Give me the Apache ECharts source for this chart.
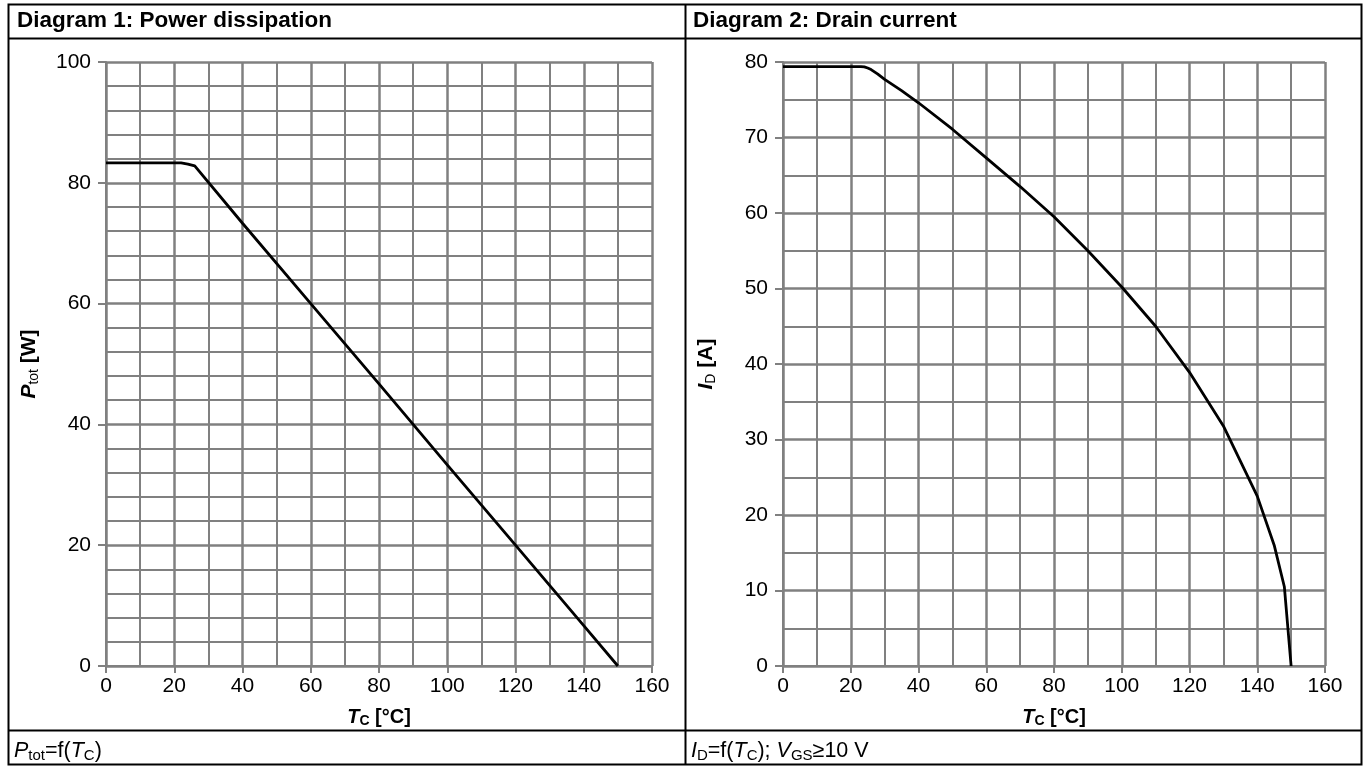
<!DOCTYPE html>
<html>
<head>
<meta charset="utf-8">
<script src="https://cdn.jsdelivr.net/npm/echarts@6/dist/echarts.min.js"></script>
<style>
html,body{margin:0;padding:0;background:#fff;}
#c{width:1364px;height:766px;}
</style>
</head>
<body>
<div id="c"></div>
<script>
// Diagram 1: power dissipation Ptot vs Tc
const tc1 = [0, 10, 20, 22, 24, 26, 40, 60, 80, 100, 120, 140, 150];
const ptot = [83.3, 83.3, 83.3, 83.3, 83.1, 82.8, 73.3, 60.0, 46.7, 33.3, 20.0, 6.7, 0];
// Diagram 2: drain current ID vs Tc
const tc2 = [0, 10, 20, 23, 24, 25, 26, 28, 30, 35, 40, 50, 60, 70, 80, 90, 100, 110, 120, 130, 140, 145, 148, 150];
const idrain = [79.4, 79.4, 79.4, 79.4, 79.35, 79.2, 79.0, 78.4, 77.7, 76.2, 74.6, 71.1, 67.3, 63.5, 59.5, 55.0, 50.2, 45.0, 38.9, 31.8, 22.5, 16.0, 10.5, 0];
const xTicks1 = [0, 20, 40, 60, 80, 100, 120, 140, 160];
const yTicks1 = [0, 20, 40, 60, 80, 100];
const yTicks2 = [0, 10, 20, 30, 40, 50, 60, 70, 80];

const FONT = '"Liberation Sans", Arial, sans-serif';
const GREY = '#808080';

function xAxis(gi) {
  return {
    type: 'value', gridIndex: gi, min: xTicks1[0], max: xTicks1[xTicks1.length - 1], interval: 20,
    name: '{it|T}{sub|C}{b| [°C]}', nameLocation: 'middle', nameGap: 41,
    nameTextStyle: {
      fontFamily: FONT, color: '#000',
      rich: {
        it: {fontFamily: FONT, fontSize: 20, fontWeight: 'bold', fontStyle: 'italic', color: '#000', verticalAlign: 'bottom'},
        sub: {fontFamily: FONT, fontSize: 14, fontWeight: 'bold', color: '#000', verticalAlign: 'bottom', padding: [0, 0, -1, 0]},
        b: {fontFamily: FONT, fontSize: 20, fontWeight: 'bold', color: '#000', verticalAlign: 'bottom'}
      }
    },
    axisLine: {show: true, lineStyle: {color: GREY, width: 2}},
    axisTick: {show: true, length: 7, lineStyle: {color: GREY, width: 2}},
    minorTick: {show: false, splitNumber: 2},
    axisLabel: {fontFamily: FONT, fontSize: 21, color: '#000', margin: 10},
    splitLine: {show: true, lineStyle: {color: GREY, width: 2.5}},
    minorSplitLine: {show: true, lineStyle: {color: GREY, width: 2}}
  };
}
function yAxis(gi, ticks, interval, minorN, nameStr, rich) {
  return {
    type: 'value', gridIndex: gi, min: ticks[0], max: ticks[ticks.length - 1], interval: interval,
    name: nameStr, nameLocation: 'middle', nameGap: 66, nameRotate: 90,
    nameTextStyle: {fontFamily: FONT, color: '#000', rich: rich},
    axisLine: {show: true, lineStyle: {color: GREY, width: 2}},
    axisTick: {show: true, length: 8, lineStyle: {color: GREY, width: 2}},
    minorTick: {show: false, splitNumber: minorN},
    axisLabel: {fontFamily: FONT, fontSize: 21, color: '#000', margin: 15},
    splitLine: {show: true, lineStyle: {color: GREY, width: 2.5}},
    minorSplitLine: {show: true, lineStyle: {color: GREY, width: 2}}
  };
}
const richY = {
  it: {fontFamily: FONT, fontSize: 21, fontWeight: 'bold', fontStyle: 'italic', color: '#000', verticalAlign: 'bottom'},
  sub: {fontFamily: FONT, fontSize: 14, color: '#000', verticalAlign: 'bottom', padding: [0, 0, -1, 0]},
  b: {fontFamily: FONT, fontSize: 21, fontWeight: 'bold', color: '#000', verticalAlign: 'bottom'}
};
const richF = {
  n: {fontFamily: FONT, fontSize: 21.5, color: '#000', verticalAlign: 'bottom'},
  it: {fontFamily: FONT, fontSize: 21.5, fontStyle: 'italic', color: '#000', verticalAlign: 'bottom'},
  sub: {fontFamily: FONT, fontSize: 15, color: '#000', verticalAlign: 'bottom', padding: [0, 0, -1, 0]}
};

const chart = echarts.init(document.getElementById('c'), null, {renderer: 'canvas'});
const option = {
  backgroundColor: '#fff',
  animation: false,
  grid: [
    {left: 106, top: 62, width: 546, height: 604},
    {left: 783, top: 62, width: 542, height: 604}
  ],
  xAxis: [xAxis(0), xAxis(1)],
  yAxis: [
    yAxis(0, yTicks1, 20, 5, '{it|P}{sub|tot}{b| [W]}', richY),
    yAxis(1, yTicks2, 10, 2, '{it|I}{sub|D}{b| [A]}', richY)
  ],
  series: [
    {type: 'line', xAxisIndex: 0, yAxisIndex: 0, data: tc1.map((t, i) => [t, ptot[i]]),
     showSymbol: false, lineStyle: {color: '#000', width: 2.8}, z: 5},
    {type: 'line', xAxisIndex: 1, yAxisIndex: 1, data: tc2.map((t, i) => [t, idrain[i]]),
     showSymbol: false, lineStyle: {color: '#000', width: 2.8}, z: 5}
  ],
  graphic: [
    {type: 'rect', shape: {x: 8.5, y: 4.5, width: 1353, height: 760}, style: {fill: 'none', stroke: '#000', lineWidth: 2}, z: 100},
    {type: 'line', shape: {x1: 8.5, y1: 38.5, x2: 1361.5, y2: 38.5}, style: {stroke: '#000', lineWidth: 2}, z: 100},
    {type: 'line', shape: {x1: 8.5, y1: 730.5, x2: 1361.5, y2: 730.5}, style: {stroke: '#000', lineWidth: 2}, z: 100},
    {type: 'line', shape: {x1: 685.5, y1: 4.5, x2: 685.5, y2: 764.5}, style: {stroke: '#000', lineWidth: 2}, z: 100},
    {type: 'text', x: 17, y: 21, style: {text: 'Diagram 1: Power dissipation', font: 'bold 22.5px ' + FONT, fill: '#000', verticalAlign: 'middle'}, z: 100},
    {type: 'text', x: 693, y: 21, style: {text: 'Diagram 2: Drain current', font: 'bold 22.5px ' + FONT, fill: '#000', verticalAlign: 'middle'}, z: 100},
    {type: 'text', x: 14, y: 751, style: {text: '{it|P}{sub|tot}{n|=f(}{it|T}{sub|C}{n|)}', rich: richF, verticalAlign: 'middle'}, z: 100},
    {type: 'text', x: 691, y: 751, style: {text: '{it|I}{sub|D}{n|=f(}{it|T}{sub|C}{n|); }{it|V}{sub|GS}{n|≥10 V}', rich: richF, verticalAlign: 'middle'}, z: 100}
  ]
};
chart.setOption(option);
</script>
</body>
</html>
